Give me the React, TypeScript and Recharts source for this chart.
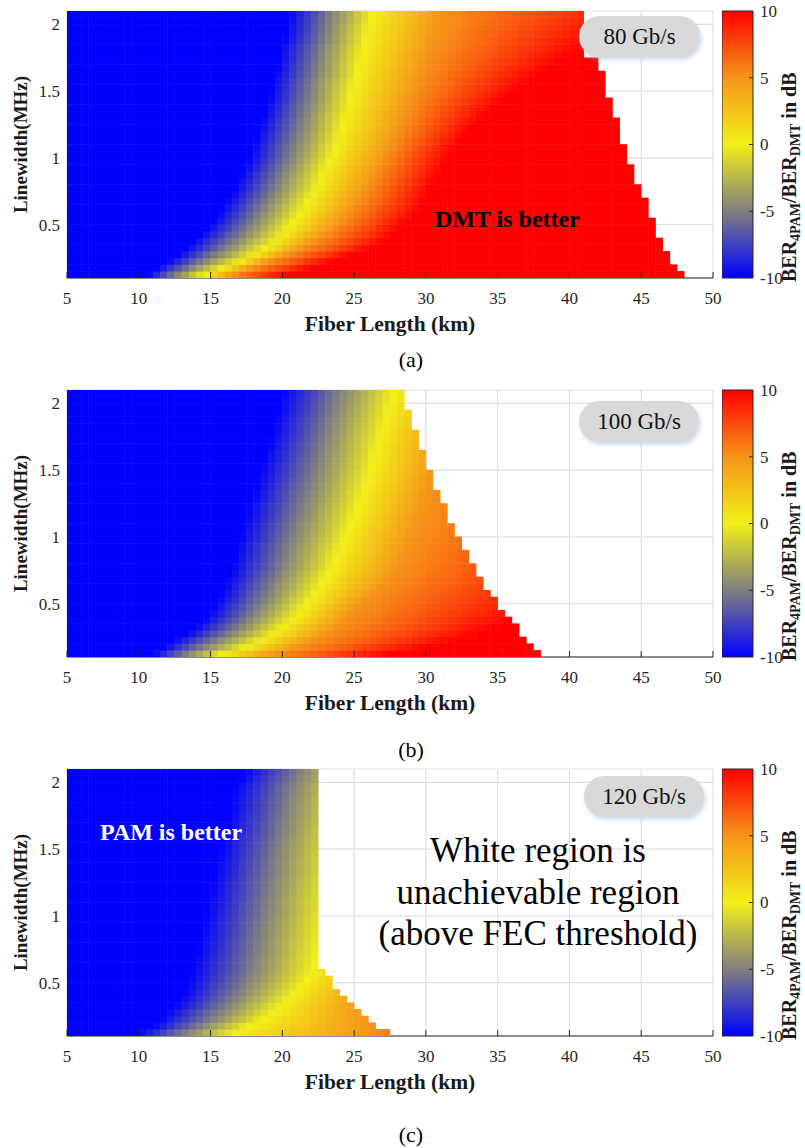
import React from 'react';
import {
  ScatterChart,
  Scatter,
  XAxis,
  YAxis,
  CartesianGrid,
  ReferenceArea,
} from 'recharts';

const FONT = '"Liberation Serif", "Times New Roman", Times, serif';

// ---------- grid / axes ----------
const FIBER_MIN = 5;
const FIBER_MAX = 50;
const FIBER_STEP = 0.5;
const LW_MIN = 0.1;
const LW_MAX = 2.1;
const LW_STEP = 0.05;
const FIBER_TICKS = [5, 10, 15, 20, 25, 30, 35, 40, 45, 50];
const LW_TICKS = [0.5, 1, 1.5, 2];
const CB_TICKS = [-10, -5, 0, 5, 10];
const CB_RANGE = [-10, 10];
const RATES = ['80 Gb/s', '100 Gb/s', '120 Gb/s'];
const CAPTIONS = ['(a)', '(b)', '(c)'];

// colormap (dB value -> colour)
const CMAP_VALUES = [-10, -5, 0, 5, 10];
const CMAP_COLORS = [
  [0, 0, 255],
  [128, 128, 128],
  [242, 240, 25],
  [246, 150, 25],
  [255, 0, 0],
];

// ---------- data ----------
// one entry per linewidth row (rows 0.10-0.15, 0.15-0.20, ... 2.05-2.10 MHz)
// CUTOFF: fiber length where the achievable (coloured) region ends
// BLUE / YELLOW / ORANGE / RED: fiber length where the ratio reaches -10 / 0 / +5 / +10 dB

// (a) 80 Gb/s
const A_CUTOFF = [48, 47.5, 47, 47, 46.5, 46.5, 46, 46, 46, 45.5, 45.5, 45.5, 45, 45, 44.5, 44.5, 44.5, 44, 44, 44, 43.5, 43.5, 43.5, 43.5, 43, 43, 43, 42.5, 42.5, 42.5, 42.5, 42, 42, 41, 41, 41, 41, 41, 41, 41];
const A_BLUE = [10.6, 11.3, 12.0, 12.7, 13.3, 13.8, 14.3, 14.8, 15.2, 15.5, 15.8, 16.1, 16.4, 16.7, 16.9, 17.1, 17.4, 17.6, 17.8, 17.9, 18.1, 18.2, 18.4, 18.5, 18.7, 18.8, 19.0, 19.1, 19.2, 19.3, 19.5, 19.6, 19.7, 19.8, 19.9, 20.1, 20.2, 20.3, 20.4, 20.5];
const A_YELLOW = [14.6, 15.8, 17.0, 18.0, 18.8, 19.5, 20.0, 20.4, 20.8, 21.2, 21.5, 21.8, 22.1, 22.4, 22.6, 22.8, 23.0, 23.3, 23.5, 23.7, 23.9, 24.0, 24.2, 24.3, 24.4, 24.6, 24.7, 24.8, 24.9, 25.0, 25.2, 25.3, 25.4, 25.5, 25.6, 25.8, 25.9, 26.0, 26.2, 26.3];
const A_ORANGE = [16.5, 17.8, 19.0, 20.2, 21.3, 22.1, 22.8, 23.5, 24.0, 24.4, 24.8, 25.2, 25.5, 25.8, 26.1, 26.3, 26.6, 26.9, 27.1, 27.4, 27.6, 27.9, 28.1, 28.3, 28.5, 28.6, 28.8, 29.0, 29.2, 29.4, 29.6, 29.8, 29.9, 30.1, 30.3, 30.4, 30.6, 30.7, 30.9, 31.0];
const A_RED = [20.5, 22.0, 23.5, 24.8, 26.2, 27.0, 27.8, 28.2, 28.7, 29.2, 29.6, 29.9, 30.2, 30.4, 30.6, 30.9, 31.1, 31.4, 31.7, 32.0, 32.4, 32.8, 33.2, 33.7, 34.2, 34.7, 35.3, 35.9, 36.5, 37.1, 37.8, 38.5, 39.3, 40.1, 40.9, 41.7, 42.5, 43.3, 44.1, 45.0];

// (b) 100 Gb/s
const B_CUTOFF = [38, 37.5, 37, 36.5, 36.5, 36, 35.5, 35, 35, 34.5, 34, 34, 33.5, 33.5, 33, 33, 32.5, 32.5, 32, 32, 31.5, 31.5, 31.5, 31, 31, 30.5, 30.5, 30.5, 30, 30, 30, 29.5, 29.5, 29.5, 29, 29, 29, 28.5, 28.5, 28.5];
const B_BLUE = [11.0, 11.7, 12.4, 13.3, 14.0, 14.5, 14.9, 15.2, 15.5, 15.7, 15.9, 16.1, 16.3, 16.5, 16.6, 16.7, 16.8, 17.0, 17.1, 17.2, 17.4, 17.5, 17.6, 17.8, 17.9, 18.1, 18.2, 18.4, 18.5, 18.7, 18.8, 19.0, 19.1, 19.3, 19.4, 19.5, 19.7, 19.8, 19.9, 20.1];
const B_YELLOW = [15.8, 17.4, 18.5, 19.4, 20.0, 20.6, 21.1, 21.5, 21.9, 22.3, 22.6, 22.9, 23.2, 23.5, 23.7, 23.9, 24.1, 24.3, 24.5, 24.7, 24.9, 25.1, 25.3, 25.5, 25.6, 25.8, 26.0, 26.1, 26.3, 26.4, 26.5, 26.6, 26.8, 26.9, 27.1, 27.2, 27.4, 27.5, 27.7, 27.8];
const B_ORANGE = [19.5, 21.0, 22.0, 22.9, 23.6, 24.2, 24.7, 25.2, 25.7, 26.2, 26.7, 27.2, 27.6, 27.9, 28.2, 28.4, 28.6, 28.8, 29.0, 29.2, 29.3, 29.5, 29.6, 29.8, 29.9, 30.1, 30.2, 30.4, 30.5, 30.6, 30.7, 30.8, 30.9, 31.0, 31.2, 31.3, 31.5, 31.6, 31.8, 32.0];
const B_RED = [27.5, 30.0, 32.0, 33.5, 35.0, 36.0, 37.0, 37.8, 38.5, 39.3, 40.0, 40.8, 41.5, 42.0, 42.4, 42.8, 43.2, 43.6, 44.0, 44.4, 44.8, 45.2, 45.6, 46.0, 46.4, 46.8, 47.2, 47.6, 48.0, 48.4, 48.8, 49.2, 49.6, 50.0, 50.3, 50.6, 50.9, 51.2, 51.6, 52.0];

// (c) 120 Gb/s
const C_CUTOFF = [27.5, 26.5, 26, 25.5, 25, 24.5, 24, 23.5, 23.5, 23, 22.5, 22.5, 22.5, 22.5, 22.5, 22.5, 22.5, 22.5, 22.5, 22.5, 22.5, 22.5, 22.5, 22.5, 22.5, 22.5, 22.5, 22.5, 22.5, 22.5, 22.5, 22.5, 22.5, 22.5, 22.5, 22.5, 22.5, 22.5, 22.5, 22.5];
const C_BLUE = [10.0, 11.0, 11.5, 11.9, 12.5, 12.8, 13.1, 13.3, 13.5, 13.7, 13.8, 13.9, 14.1, 14.2, 14.3, 14.4, 14.5, 14.6, 14.7, 14.8, 14.9, 15.0, 15.1, 15.2, 15.3, 15.4, 15.5, 15.6, 15.7, 15.8, 16.0, 16.1, 16.2, 16.3, 16.4, 16.5, 16.6, 16.8, 17.1, 17.4];
const C_YELLOW = [16.6, 17.6, 18.6, 19.3, 19.8, 20.4, 20.9, 21.3, 21.7, 22.0, 22.2, 22.3, 22.4, 22.5, 22.6, 22.7, 22.8, 22.9, 23.0, 23.1, 23.1, 23.2, 23.3, 23.4, 23.5, 23.6, 23.6, 23.7, 23.8, 23.9, 24.0, 24.1, 24.2, 24.3, 24.4, 24.5, 24.6, 24.7, 24.9, 25.0];
const C_ORANGE = [26.0, 26.0, 25.8, 25.7, 25.6, 25.6, 25.8, 26.1, 26.5, 27.0, 27.2, 27.3, 27.4, 27.5, 27.6, 27.7, 27.8, 27.9, 28.0, 28.1, 28.1, 28.2, 28.3, 28.4, 28.5, 28.6, 28.6, 28.7, 28.8, 28.9, 29.0, 29.1, 29.2, 29.3, 29.4, 29.5, 29.6, 29.7, 29.9, 30.0];
const C_RED = [35.0, 35.5, 35.8, 36.0, 36.0, 36.0, 36.0, 36.3, 36.6, 37.0, 37.2, 37.3, 37.4, 37.5, 37.6, 37.7, 37.8, 37.9, 38.0, 38.1, 38.1, 38.2, 38.3, 38.4, 38.5, 38.6, 38.6, 38.7, 38.8, 38.9, 39.0, 39.1, 39.2, 39.3, 39.4, 39.5, 39.6, 39.7, 39.9, 40.0];

const PANEL_DATA = [
  { cutoff: A_CUTOFF, blue: A_BLUE, yellow: A_YELLOW, orange: A_ORANGE, red: A_RED },
  { cutoff: B_CUTOFF, blue: B_BLUE, yellow: B_YELLOW, orange: B_ORANGE, red: B_RED },
  { cutoff: C_CUTOFF, blue: C_BLUE, yellow: C_YELLOW, orange: C_ORANGE, red: C_RED },
];

// ---------- layout ----------
const CHART_W = 805;
const MARGIN_TOP = 11;
const MARGIN_LEFT = 7;
const Y_AXIS_W = 60;
const MARGIN_RIGHT = 92;
const X_AXIS_H = 30;
const PLOT_H = 267;
const CHART_H = MARGIN_TOP + PLOT_H + X_AXIS_H;
const PLOT_LEFT = MARGIN_LEFT + Y_AXIS_W;
const PLOT_W = CHART_W - MARGIN_RIGHT - PLOT_LEFT;
const PANEL_TOPS = [11, 390, 769];
const CB_LEFT = 722;
const CB_W = 31;
const CB_AXIS_W = 52;
const PILLS = [
  { x: 579, y: 16, w: 121, h: 41 },
  { x: 579, y: 401, w: 120, h: 41 },
  { x: 584, y: 776, w: 120, h: 41 },
];
const CAPTION_Y = [367, 757, 1142];

const CELL_W = (PLOT_W * FIBER_STEP) / (FIBER_MAX - FIBER_MIN);
const CELL_H = (PLOT_H * LW_STEP) / (LW_MAX - LW_MIN);

// ---------- helpers ----------
function colorOf(v: number): string {
  const vv = Math.max(CMAP_VALUES[0], Math.min(CMAP_VALUES[CMAP_VALUES.length - 1], v));
  let i = 0;
  while (i < CMAP_VALUES.length - 2 && vv > CMAP_VALUES[i + 1]) i++;
  const t = (vv - CMAP_VALUES[i]) / (CMAP_VALUES[i + 1] - CMAP_VALUES[i]);
  const a = CMAP_COLORS[i];
  const b = CMAP_COLORS[i + 1];
  const c = a.map((ai, k) => Math.round(ai + (b[k] - ai) * t));
  return `rgb(${c[0]},${c[1]},${c[2]})`;
}

function ratioAt(x: number, b: number, y: number, o: number, r: number): number {
  if (x <= b) return -10;
  if (x <= y) return -10 + (10 * (x - b)) / (y - b);
  if (x <= o) return (5 * (x - y)) / (o - y);
  if (x <= r) return 5 + (5 * (x - o)) / (r - o);
  return 10;
}

function buildCells(p: typeof PANEL_DATA[number]) {
  const cells: { x: number; y: number; c: string }[] = [];
  const nRows = p.cutoff.length;
  const nCols = Math.round((FIBER_MAX - FIBER_MIN) / FIBER_STEP);
  for (let k = 0; k < nRows; k++) {
    const yc = LW_MIN + (k + 0.5) * LW_STEP;
    for (let j = 0; j < nCols; j++) {
      const x0 = FIBER_MIN + j * FIBER_STEP;
      if (x0 >= p.cutoff[k] - 1e-9) break;
      const xc = x0 + FIBER_STEP / 2;
      const v = ratioAt(xc, p.blue[k], p.yellow[k], p.orange[k], p.red[k]);
      cells.push({ x: xc, y: yc, c: colorOf(v) });
    }
  }
  return cells;
}

const renderCell = (props: any) => {
  const { cx, cy, payload } = props;
  if (cx == null || cy == null) return <g />;
  return (
    <rect
      x={cx - CELL_W / 2 - 0.25}
      y={cy - CELL_H / 2 - 0.25}
      width={CELL_W + 0.5}
      height={CELL_H + 0.5}
      fill={payload.c}
      stroke="none"
    />
  );
};

const renderNothing = () => <g />;

const XTick = (props: any) => {
  const { x, y, payload } = props;
  const axisY = y - 8;
  return (
    <g>
      <line x1={x} x2={x} y1={axisY} y2={axisY - 6} stroke="#262626" strokeWidth={1} />
      <text x={x} y={axisY + 25.5} textAnchor="middle" fontSize={17} fill="#262626" fontFamily={FONT}>
        {payload.value}
      </text>
    </g>
  );
};

const YTick = (props: any) => {
  const { x, y, payload } = props;
  return (
    <text x={x} y={y} dy="0.35em" textAnchor="end" fontSize={17} fill="#262626" fontFamily={FONT}>
      {String(payload.value)}
    </text>
  );
};

const CbTick = (props: any) => {
  const { x, y, payload } = props;
  const edge = x - 7;
  const v = payload.value;
  return (
    <g>
      {v !== -10 && v !== 10 ? (
        <line x1={edge - 4} x2={edge} y1={y} y2={y} stroke="#262626" strokeWidth={1} />
      ) : null}
      <text x={x} y={y} dy="0.35em" textAnchor="start" fontSize={17} fill="#262626" fontFamily={FONT}>
        {String(v)}
      </text>
    </g>
  );
};

function HeatPanel({ idx }: { idx: number }) {
  const cells = React.useMemo(() => buildCells(PANEL_DATA[idx]), [idx]);
  const top = PANEL_TOPS[idx];
  return (
    <div style={{ position: 'absolute', left: 0, top: top - MARGIN_TOP, width: CHART_W, height: CHART_H }}>
      <ScatterChart
        width={CHART_W}
        height={CHART_H}
        margin={{ top: MARGIN_TOP, right: MARGIN_RIGHT, bottom: 0, left: MARGIN_LEFT }}
      >
        <CartesianGrid stroke="#dfdfdf" strokeWidth={1.2} />
        <XAxis
          type="number"
          dataKey="x"
          domain={[FIBER_MIN, FIBER_MAX]}
          ticks={FIBER_TICKS}
          interval={0}
          allowDataOverflow
          height={X_AXIS_H}
          tickSize={0}
          tickMargin={8}
          tickLine={false}
          axisLine={{ stroke: '#262626', strokeWidth: 1 }}
          tick={<XTick />}
        />
        <YAxis
          type="number"
          dataKey="y"
          domain={[LW_MIN, LW_MAX]}
          ticks={LW_TICKS}
          interval={0}
          allowDataOverflow
          width={Y_AXIS_W}
          tickSize={0}
          tickMargin={7}
          tickLine={false}
          axisLine={false}
          tick={<YTick />}
        />
        <Scatter data={cells} isAnimationActive={false} shape={renderCell} />
      </ScatterChart>
    </div>
  );
}

function ColorBar({ idx }: { idx: number }) {
  const top = PANEL_TOPS[idx];
  const gid = `cbgrad${idx}`;
  const anchors = [
    { x: 0, y: CB_RANGE[0] },
    { x: 1, y: CB_RANGE[1] },
  ];
  return (
    <div style={{ position: 'absolute', left: CB_LEFT, top: top - MARGIN_TOP, width: CB_W + CB_AXIS_W, height: CHART_H }}>
      <ScatterChart
        width={CB_W + CB_AXIS_W}
        height={CHART_H}
        margin={{ top: MARGIN_TOP, right: 0, bottom: X_AXIS_H, left: 0 }}
      >
        <XAxis type="number" dataKey="x" domain={[0, 1]} hide />
        <YAxis
          type="number"
          dataKey="y"
          orientation="right"
          domain={CB_RANGE}
          ticks={CB_TICKS}
          interval={0}
          width={CB_AXIS_W}
          tickSize={0}
          tickMargin={7}
          tickLine={false}
          axisLine={false}
          tick={<CbTick />}
        />
        <ReferenceArea
          x1={0}
          x2={1}
          y1={CB_RANGE[0]}
          y2={CB_RANGE[1]}
          fill={`url(#${gid})`}
          fillOpacity={1}
          stroke="#262626"
          strokeWidth={1}
          ifOverflow="visible"
        />
        <Scatter data={anchors} isAnimationActive={false} shape={renderNothing} />
      </ScatterChart>
    </div>
  );
}

function Overlay() {
  return (
    <svg
      width={CHART_W}
      height={1148}
      style={{ position: 'absolute', left: 0, top: 0, pointerEvents: 'none' }}
      fontFamily={FONT}
    >
      <defs>
        <filter id="pillShadow" x="-20%" y="-40%" width="140%" height="190%">
          <feDropShadow dx="1.5" dy="2.5" stdDeviation="2" floodColor="#9db9dc" floodOpacity="0.55" />
        </filter>
      </defs>
      {PANEL_TOPS.map((top, i) => {
        const bottom = top + PLOT_H;
        const pill = PILLS[i];
        return (
          <g key={i}>
            <text
              transform={`translate(27, ${top + PLOT_H / 2}) rotate(-90)`}
              textAnchor="middle"
              fontSize={19}
              fontWeight="bold"
              fill="#1a1a1a"
            >
              Linewidth(MHz)
            </text>
            <text x={390} y={bottom + 53} textAnchor="middle" fontSize={21.5} fontWeight="bold" fill="#1a1a1a">
              Fiber Length (km)
            </text>
            <text x={411} y={CAPTION_Y[i]} textAnchor="middle" fontSize={22} fill="#000">
              {CAPTIONS[i]}
            </text>
            <text
              transform={`translate(796, ${bottom + 4}) rotate(-90)`}
              textAnchor="start"
              fontSize={20}
              fontWeight="bold"
              fill="#1a1a1a"
            >
              BER
              <tspan dy={4} fontSize={14}>4PAM</tspan>
              <tspan dy={-4}>/BER</tspan>
              <tspan dy={4} fontSize={14}>DMT</tspan>
              <tspan dy={-4}> in dB</tspan>
            </text>
            <rect
              x={pill.x}
              y={pill.y}
              width={pill.w}
              height={pill.h}
              rx={pill.h / 2}
              ry={pill.h / 2}
              fill="#d9d9d9"
              filter="url(#pillShadow)"
            />
            <text
              x={pill.x + pill.w / 2}
              y={pill.y + 28}
              textAnchor="middle"
              fontSize={23}
              fill="#111"
            >
              {RATES[i]}
            </text>
          </g>
        );
      })}
      <text x={435} y={227} fontSize={24} fontWeight="bold" fill="#000">
        DMT is better
      </text>
      <text x={100} y={840} fontSize={24} fontWeight="bold" fill="#fff">
        PAM is better
      </text>
      <text textAnchor="middle" fontSize={35} fill="#000">
        <tspan x={538} y={862}>White region is</tspan>
        <tspan x={538} y={903.5}>unachievable region</tspan>
        <tspan x={538} y={945}>(above FEC threshold)</tspan>
      </text>
    </svg>
  );
}

function GradientDefs() {
  return (
    <svg width={0} height={0} style={{ position: 'absolute', left: 0, top: 0 }}>
      <defs>
        {[0, 1, 2].map((i) => (
          <linearGradient key={i} id={`cbgrad${i}`} x1="0" y1="1" x2="0" y2="0">
            {CMAP_VALUES.map((v, k) => (
              <stop
                key={v}
                offset={`${((v - CMAP_VALUES[0]) / (CMAP_VALUES[CMAP_VALUES.length - 1] - CMAP_VALUES[0])) * 100}%`}
                stopColor={`rgb(${CMAP_COLORS[k].join(',')})`}
              />
            ))}
          </linearGradient>
        ))}
      </defs>
    </svg>
  );
}

export default function App() {
  return (
    <div
      style={{
        position: 'absolute',
        left: 0,
        top: 0,
        width: CHART_W,
        height: 1148,
        background: '#fff',
        overflow: 'hidden',
      }}
    >
      <GradientDefs />
      {[0, 1, 2].map((i) => (
        <React.Fragment key={i}>
          <HeatPanel idx={i} />
          <ColorBar idx={i} />
        </React.Fragment>
      ))}
      <Overlay />
    </div>
  );
}
